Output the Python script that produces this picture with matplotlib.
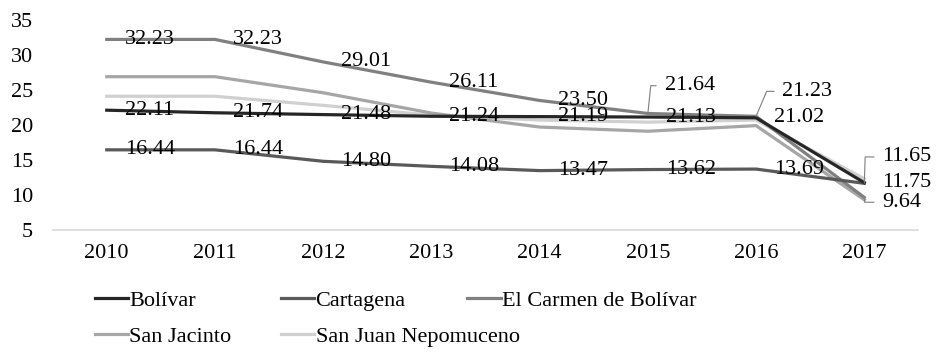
import matplotlib
matplotlib.use("Agg")
import matplotlib.pyplot as plt
from matplotlib.lines import Line2D

years = ["2010", "2011", "2012", "2013", "2014", "2015", "2016", "2017"]

bolivar = [22.11, 21.74, 21.48, 21.24, 21.19, 21.13, 21.02, 11.75]
cartagena = [16.44, 16.44, 14.80, 14.08, 13.47, 13.62, 13.69, 11.65]
carmen = [32.23, 32.23, 29.01, 26.11, 23.50, 21.64, 21.23, 9.64]
san_jacinto = [26.9, 26.9, 24.6, 21.7, 19.7, 19.1, 19.9, 9.3]
san_juan = [24.1, 24.1, 22.8, 21.4, 20.7, 20.4, 20.7, 12.3]

names = ["Bolívar", "Cartagena", "El Carmen de Bolívar", "San Jacinto", "San Juan Nepomuceno"]
colors = ["#262626", "#595959", "#808080", "#a6a6a6", "#d0d0d0"]

plt.rcParams['font.family'] = ['Liberation Serif', 'DejaVu Serif']
FS = 16

fig = plt.figure(figsize=(9.4, 3.58), dpi=100)
ax = fig.add_axes([0.056, 0.358, 0.921, 0.586])

x = list(range(len(years)))
series = [bolivar, cartagena, carmen, san_jacinto, san_juan]
# light lines first so the dark ones sit on top
for i in [4, 3, 2, 1, 0]:
    ax.plot(x, series[i], color=colors[i], lw=2.3, solid_joinstyle='miter', zorder=2 + (5 - i) * 0.1)

def label(xi, v, dx=13, dy=0):
    ax.annotate(f"{v:.2f}", (xi, v), xytext=(dx, dy), textcoords='offset points',
                ha='left', va='center', fontsize=FS, color='black', zorder=5)

def callout(xi, v, dx, dy, ang):
    ax.annotate(f"{v:.2f}", (xi, v), xytext=(dx, dy), textcoords='offset points',
                ha='left', va='center', fontsize=FS, color='black', zorder=5,
                arrowprops=dict(arrowstyle='-', color='#7f7f7f', lw=0.8, shrinkA=4, shrinkB=0,
                                relpos=(0, 0.5),
                                connectionstyle=f"angle,angleA=0,angleB={ang},rad=0"))

# Bolívar
for i in range(8):
    label(x[i], bolivar[i])
# Cartagena
for i in range(7):
    label(x[i], cartagena[i])
callout(x[7], cartagena[7], 13, 19, 88)
# El Carmen de Bolívar
for i in range(5):
    label(x[i], carmen[i])
callout(x[5], carmen[5], 12, 20, 84)
callout(x[6], carmen[6], 19, 18, 67)
callout(x[7], carmen[7], 13, -3.5, -85)

ax.set_xlim(-0.5, 7.5)
ax.set_ylim(5, 35)
ax.set_yticks([5, 10, 15, 20, 25, 30, 35])
ax.set_xticks(x)
ax.set_xticklabels(years)
ax.tick_params(axis='both', length=0, labelsize=FS)
ax.tick_params(axis='y', pad=14)
ax.tick_params(axis='x', pad=10)
for s in ['top', 'right', 'left']:
    ax.spines[s].set_visible(False)
ax.spines['bottom'].set_color('#d9d9d9')
ax.spines['bottom'].set_linewidth(1.2)

# legend as three fixed-width columns, filled row by row
cols = [[0, 3], [1, 4], [2]]
xs = [0.101, 0.299, 0.497]
for col, lx in zip(cols, xs):
    handles = [Line2D([0], [0], color=colors[k], lw=2.3) for k in col]
    fig.legend(handles, [names[k] for k in col], loc='upper left', bbox_to_anchor=(lx, 0.19),
               frameon=False, fontsize=FS, handlelength=1.5, handletextpad=0.05,
               borderpad=0, borderaxespad=0, labelspacing=0.7)

fig.savefig("out.png", dpi=100)
